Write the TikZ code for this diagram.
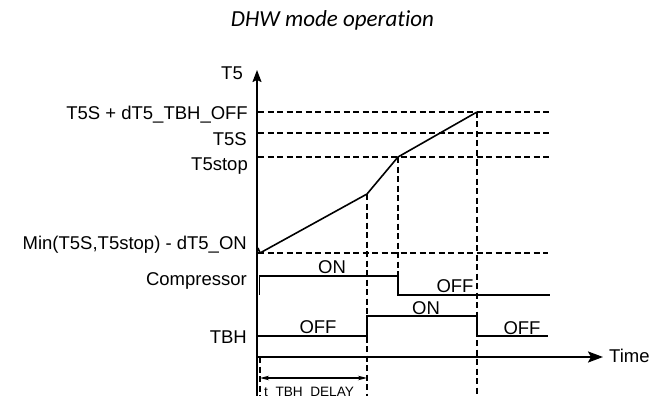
\documentclass[tikz,border=0pt]{standalone}
\usepackage{fontspec}
\setmainfont{Liberation Sans}
\newfontfamily\titlefont[Ligatures=CommonOff]{Carlito}
\usetikzlibrary{arrows.meta}
\begin{document}
\begin{tikzpicture}[x=1pt,y=-1pt,
  lbl/.style={font=\fontsize{18.5}{20}\selectfont, inner sep=0pt},
  smalllbl/.style={font=\fontsize{13.6}{15}\selectfont, inner sep=0pt},
  sig/.style={line width=1.6pt},
  dsh/.style={line width=1.5pt, dash pattern=on 6pt off 3.5pt},
  axis/.style={line width=1.6pt},
  ]
\useasboundingbox (0,0) rectangle (665,396);
\fill[white] (0,0) rectangle (665,396);

% title
\node[font=\titlefont\itshape\fontsize{23}{26}\selectfont, anchor=base, inner sep=0pt] (title) at (332.5,27) {DHW mode operation};

% coordinates
\coordinate (O) at (257,396);
\coordinate (Ytop) at (257,70);
\coordinate (T0) at (257,357);
\coordinate (T1) at (603,357);
\coordinate (c0a) at (258,248);
\coordinate (c0) at (260,253);
\coordinate (c1) at (367,194);
\coordinate (c2) at (398,157);
\coordinate (c3) at (477,112);
\coordinate (h1a) at (258,112); \coordinate (h1b) at (550,112);
\coordinate (h2a) at (258,133); \coordinate (h2b) at (550,133);
\coordinate (h3a) at (258,157); \coordinate (h3b) at (550,157);
\coordinate (h4a) at (258,253); \coordinate (h4b) at (548,253);
\coordinate (c1b) at (367,396);
\coordinate (c3b) at (477,396);
\coordinate (cp0) at (259.5,295); \coordinate (cp1) at (259.5,276);
\coordinate (cp2) at (398,276); \coordinate (cp3) at (398,295);
\coordinate (cp4) at (550,295);
\coordinate (tb0) at (258,336); \coordinate (tb1) at (367,336);
\coordinate (tb2) at (367,316); \coordinate (tb3) at (477,316);
\coordinate (tb4) at (477,336); \coordinate (tb5) at (548,336);
\coordinate (d0) at (260,357); \coordinate (d0b) at (260,396);
\coordinate (da) at (260,378); \coordinate (db) at (367,378);

% dashed guide lines
\draw[dsh] (h1a) -- (h1b);
\draw[dsh] (h2a) -- (h2b);
\draw[dsh] (h3a) -- (h3b);
\draw[dsh] (h4a) -- (h4b);
\draw[dsh] (c1) -- (c1b);
\draw[dsh] (c2) -- (cp2);
\draw[dsh] (c3) -- (c3b);
\draw[dsh] (d0) -- (d0b);

% axes
\draw[axis, -{Stealth[length=12pt,width=9pt,inset=2pt]}] (O) -- (Ytop);
\draw[line width=2.2pt, -{Stealth[length=15pt,width=11pt,inset=3pt]}] (T0) -- (T1);

% T5 curve
\draw[sig, line join=round] (c0a) -- (c0) -- (c1) -- (c2) -- (c3);

% compressor
\draw[sig] (cp0) -- (cp1) -- (cp2) -- (cp3) -- (cp4);
% TBH
\draw[sig] (tb0) -- (tb1) -- (tb2) -- (tb3) -- (tb4) -- (tb5);

% delay dimension
\draw[line width=1.4pt, {Stealth[length=9pt,width=4.5pt]}-{Stealth[length=9pt,width=4.5pt]}] (da) -- (db);

% labels
\node[lbl, anchor=base east] (lT5) at (243,79.6) {T5};
\node[lbl, anchor=base east] (lOff) at (248,119.6) {T5S + dT5\_TBH\_OFF};
\node[lbl, anchor=base east] (lT5S) at (247,145.6) {T5S};
\node[lbl, anchor=base east] (lT5stop) at (248,170.6) {T5stop};
\node[lbl, anchor=base east] (lMin) at (247,249) {Min(T5S,T5stop) - dT5\_ON};
\node[lbl, anchor=base east] (lComp) at (247,285) {Compressor};
\node[lbl, anchor=base east] (lTBH) at (247,343) {TBH};
\node[lbl, anchor=base west] (lTime) at (609,362.6) {Time};

\node[lbl, anchor=base] (on1) at (332,273) {ON};
\node[lbl, anchor=base] (off1) at (455,292) {OFF};
\node[lbl, anchor=base] (on2) at (426,314) {ON};
\node[lbl, anchor=base] (off2) at (318,333) {OFF};
\node[lbl, anchor=base] (off3) at (522,334) {OFF};
\node[smalllbl, anchor=base west] (ldelay) at (264,396.5) {t\_TBH\_DELAY};
\end{tikzpicture}
\end{document}
